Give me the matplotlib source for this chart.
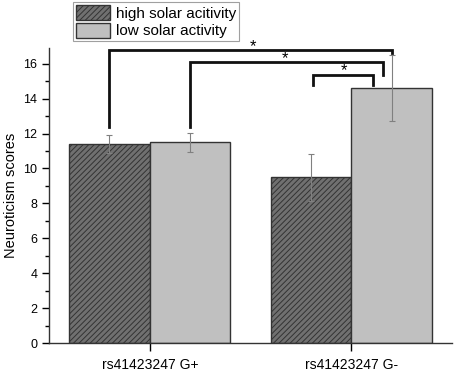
import matplotlib
matplotlib.use("Agg")
import matplotlib.pyplot as plt
import numpy as np
from matplotlib.ticker import MultipleLocator

plt.rcParams['font.family'] = ['Liberation Sans', 'DejaVu Sans']
plt.rcParams['hatch.color'] = '#303030'
plt.rcParams['hatch.linewidth'] = 0.7

groups = ["rs41423247 G+", "rs41423247 G-"]
series_names = ["high solar acitivity", "low solar activity"]
high_vals = [11.4, 9.5]
high_err = [0.5, 1.35]
low_vals = [11.5, 14.6]
low_err = [0.55, 1.9]
y_ticks = [0, 2, 4, 6, 8, 10, 12, 14, 16]

# significance brackets: (x_left, x_right, y_top, left_leg_bottom, right_leg_bottom, star_x, star_y)
brackets = [
    (-0.2, 1.2, 16.8, 12.35, 16.6, 0.51, 17.0),
    (0.2, 1.16, 16.1, 12.4, 15.35, 0.67, 16.3),
    (0.81, 1.11, 15.35, 14.8, 14.8, 0.965, 15.6),
]

fig = plt.figure(figsize=(4.54, 3.75), dpi=100)
ax = fig.add_axes([0.108, 0.0853, 0.8876, 0.7867])

x = np.arange(len(groups))
w = 0.4
b1 = ax.bar(x - w/2, high_vals, w, color='#707070', edgecolor='#333333', linewidth=1.0,
            hatch='//////', label=series_names[0])
b2 = ax.bar(x + w/2, low_vals, w, color='#c0c0c0', edgecolor='#333333', linewidth=1.0,
            label=series_names[1])
ax.errorbar(x - w/2, high_vals, yerr=high_err, fmt='none', ecolor='#808080',
            elinewidth=0.8, capsize=2.5, capthick=0.8)
ax.errorbar(x + w/2, low_vals, yerr=low_err, fmt='none', ecolor='#808080',
            elinewidth=0.8, capsize=2.5, capthick=0.8)

for (xl, xr, yt, lb, rb, sx, sy) in brackets:
    ax.plot([xl, xl, xr, xr], [lb, yt, yt, rb], color='#111111', lw=2.0,
            clip_on=False, solid_joinstyle='miter')
    ax.text(sx, sy, '*', ha='center', va='center', fontsize=12, clip_on=False)

ax.set_xlim(-0.5, 1.5)
ax.set_ylim(0, 16.9)
ax.set_xticks(x)
ax.set_xticklabels(groups, fontsize=10)
ax.set_yticks(y_ticks)
ax.tick_params(axis='y', labelsize=9, length=5, width=1.0, direction='out')
ax.tick_params(axis='x', length=6, width=1.0, direction='out', pad=5)
ax.yaxis.set_minor_locator(MultipleLocator(1))
ax.tick_params(axis='y', which='minor', length=3, width=1.0)
ax.set_ylabel('Neuroticism scores', fontsize=10.5)
for s in ['top', 'right']:
    ax.spines[s].set_visible(False)
for s in ['left', 'bottom']:
    ax.spines[s].set_linewidth(1.0)
    ax.spines[s].set_color('#333333')

leg = fig.legend(handles=[b1, b2], labels=series_names, loc='upper left',
                 bbox_to_anchor=(73/454, 1 - 2/375), fontsize=11, frameon=True,
                 fancybox=False, edgecolor='#888888', borderpad=0.2,
                 handlelength=2.2, handleheight=1.1, handletextpad=0.4,
                 labelspacing=0.15, borderaxespad=0)
leg.get_frame().set_linewidth(0.8)

fig.savefig('out.png', dpi=100)
